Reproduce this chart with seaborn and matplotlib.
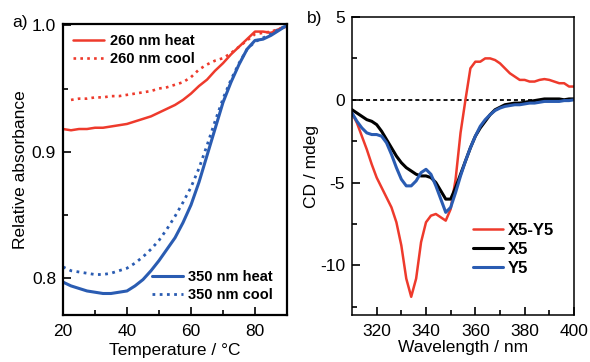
import numpy as np
import pandas as pd
import matplotlib
matplotlib.use("Agg")
import matplotlib.pyplot as plt
import seaborn as sns

# ---- panel a: melting curves (relative absorbance vs temperature) ----
temp = [20, 22.5, 25, 27.5, 30, 32.5, 35, 37.5, 40, 42.5, 45, 47.5, 50, 52.5, 55,
        57.5, 60, 62.5, 65, 67.5, 70, 72.5, 75, 77.5, 80, 82.5, 85, 87.5, 90]

abs260_heat = [0.918, 0.917, 0.918, 0.918, 0.919, 0.919, 0.920, 0.921, 0.922, 0.924,
               0.926, 0.928, 0.931, 0.934, 0.937, 0.941, 0.946, 0.952, 0.957, 0.964,
               0.970, 0.977, 0.983, 0.989, 0.995, 0.995, 0.994, 0.997, 0.999]
abs260_cool = [0.940, 0.941, 0.942, 0.942, 0.943, 0.943, 0.944, 0.944, 0.945, 0.946,
               0.947, 0.948, 0.950, 0.951, 0.953, 0.955, 0.959, 0.965, 0.969, 0.972,
               0.974, 0.978, 0.983, 0.988, 0.993, 0.994, 0.995, 0.997, 1.000]
abs350_heat = [0.797, 0.794, 0.792, 0.790, 0.789, 0.788, 0.788, 0.789, 0.790, 0.794,
               0.799, 0.806, 0.814, 0.823, 0.832, 0.844, 0.858, 0.876, 0.897, 0.918,
               0.939, 0.955, 0.969, 0.981, 0.988, 0.989, 0.992, 0.996, 1.000]
abs350_cool = [0.809, 0.806, 0.805, 0.804, 0.803, 0.803, 0.804, 0.806, 0.808, 0.812,
               0.817, 0.823, 0.830, 0.839, 0.849, 0.860, 0.872, 0.887, 0.905, 0.924,
               0.942, 0.957, 0.970, 0.981, 0.987, 0.990, 0.993, 0.997, 1.000]

# ---- panel b: CD spectra ----
wavelength = [310, 312, 314, 316, 318, 320, 322, 324, 326, 328, 330, 332, 334, 336, 338,
              340, 342, 344, 346, 348, 350, 352, 354, 356, 358, 360, 362, 364, 366, 368,
              370, 372, 374, 376, 378, 380, 382, 384, 386, 388, 390, 392, 394, 396, 398, 400]

cd_x5y5 = [-0.8, -1.4, -2.2, -3.0, -3.9, -4.7, -5.3, -5.9, -6.5, -7.4, -8.8, -10.8, -11.9,
           -10.8, -8.6, -7.4, -7.0, -6.9, -7.1, -7.3, -6.6, -4.8, -2.0, 0.0, 1.9, 2.3, 2.3,
           2.5, 2.5, 2.4, 2.2, 1.9, 1.6, 1.4, 1.2, 1.2, 1.1, 1.1, 1.2, 1.25, 1.2, 1.1, 1.0,
           1.0, 0.8, 0.8]
cd_x5 = [-0.6, -0.8, -1.0, -1.2, -1.3, -1.5, -1.9, -2.4, -2.9, -3.4, -3.8, -4.1, -4.3, -4.5,
         -4.6, -4.6, -4.7, -5.0, -5.5, -6.0, -6.0, -5.3, -4.5, -3.7, -2.9, -2.2, -1.7, -1.3,
         -0.9, -0.6, -0.45, -0.3, -0.25, -0.2, -0.2, -0.15, -0.1, -0.05, 0.0, 0.05, 0.05,
         0.05, 0.05, 0.0, 0.05, 0.05]
cd_y5 = [-0.8, -1.3, -1.7, -2.0, -2.1, -2.1, -2.2, -2.6, -3.3, -4.1, -4.8, -5.2, -5.2, -4.9,
         -4.4, -4.2, -4.5, -5.2, -6.0, -6.8, -6.5, -5.6, -4.6, -3.7, -2.9, -2.2, -1.6, -1.2,
         -0.9, -0.65, -0.5, -0.4, -0.35, -0.3, -0.3, -0.25, -0.2, -0.2, -0.15, -0.1, -0.1,
         -0.1, -0.1, -0.05, -0.05, 0.0]

RED = "#ee3a2c"
BLUE = "#2a5cb2"

sns.set_style("ticks")
plt.rcParams["font.family"] = ["Liberation Sans", "DejaVu Sans"]
plt.rcParams["axes.unicode_minus"] = False
plt.rcParams["text.color"] = "black"
plt.rcParams["axes.labelcolor"] = "black"
plt.rcParams["xtick.color"] = "black"
plt.rcParams["ytick.color"] = "black"

fig = plt.figure(figsize=(5.9, 3.62), dpi=100)
ax_a = fig.add_axes([63 / 590, 1 - 315 / 362, 224 / 590, 291 / 362])
ax_b = fig.add_axes([352 / 590, 1 - 315 / 362, 222 / 590, 298 / 362])

dot = (0, (1, 1.6))

# panel a
sns.lineplot(x=temp, y=abs260_heat, ax=ax_a, color=RED, lw=1.8, label="260 nm heat")
sns.lineplot(x=temp[1:], y=abs260_cool[1:], ax=ax_a, color=RED, lw=1.9, linestyle=dot,
             label="260 nm cool")
sns.lineplot(x=temp, y=abs350_heat, ax=ax_a, color=BLUE, lw=2.2, label="350 nm heat")
sns.lineplot(x=temp, y=abs350_cool, ax=ax_a, color=BLUE, lw=2.0, linestyle=dot,
             label="350 nm cool")

ax_a.set_xlim(20, 90)
ax_a.set_ylim(0.771, 1.001)
ax_a.set_xticks([20, 40, 60, 80])
ax_a.set_xticks([30, 50, 70], minor=True)
ax_a.set_yticks([0.8, 0.9, 1.0])
ax_a.set_yticks([0.85, 0.95], minor=True)
ax_a.set_yticklabels(["0.8", "0.9", "1.0"])
ax_a.set_xlabel("Temperature / °C", fontsize=12.5, labelpad=3)
ax_a.set_ylabel("Relative absorbance", fontsize=12.5, labelpad=3)

h, l = ax_a.get_legend_handles_labels()
ax_a.get_legend().remove()
leg1 = ax_a.legend(h[:2], l[:2], loc="upper left", bbox_to_anchor=(0.045, 0.966),
                   frameon=False, borderpad=0, borderaxespad=0, handlelength=2.1,
                   handletextpad=0.4, labelspacing=0.28, prop={"weight": "bold", "size": 10.5})
ax_a.add_artist(leg1)
ax_a.legend(h[2:], l[2:], loc="lower left", bbox_to_anchor=(0.397, 0.045),
            frameon=False, borderpad=0, borderaxespad=0, handlelength=2.1,
            handletextpad=0.4, labelspacing=0.28, prop={"weight": "bold", "size": 10.5})

# panel b
ax_b.axhline(0, color="black", lw=1.3, linestyle=(0, (2.2, 1.7)), zorder=1)
sns.lineplot(x=wavelength, y=cd_x5y5, ax=ax_b, color=RED, lw=1.8, label="X5-Y5")
sns.lineplot(x=wavelength, y=cd_x5, ax=ax_b, color="black", lw=2.2, label="X5")
sns.lineplot(x=wavelength, y=cd_y5, ax=ax_b, color=BLUE, lw=2.2, label="Y5")

ax_b.set_xlim(310, 400)
ax_b.set_ylim(-13, 5)
ax_b.set_xticks([320, 340, 360, 380, 400])
ax_b.set_xticks([330, 350, 370, 390], minor=True)
ax_b.set_yticks([-10, -5, 0, 5])
ax_b.set_yticks([-12.5, -7.5, -2.5, 2.5], minor=True)
ax_b.set_xlabel("Wavelength / nm", fontsize=12.5, labelpad=1)
ax_b.set_ylabel("CD / mdeg", fontsize=12.5, labelpad=1)
ax_b.legend(loc="upper left", bbox_to_anchor=(0.545, 0.31), frameon=False,
            borderpad=0, borderaxespad=0, handlelength=1.8, handletextpad=0.3,
            labelspacing=0.25, prop={"weight": "bold", "size": 12})

for ax, lw in ((ax_a, 1.6), (ax_b, 1.1)):
    for sp in ax.spines.values():
        sp.set_visible(True)
        sp.set_linewidth(lw)
        sp.set_color("black")
    ax.tick_params(which="major", direction="in", length=6, width=1.2, labelsize=12.5,
                   top=False, right=False)
    ax.tick_params(which="minor", direction="in", length=3.5, width=1.2,
                   top=False, right=False)
    ax.tick_params(axis="x", pad=6.5)
    ax.tick_params(axis="y", pad=5)

fig.text(12 / 590, 1 - 23 / 362, "a)", fontsize=12.5, va="center", ha="left")
fig.text(307 / 590, 1 - 18 / 362, "b)", fontsize=12.5, va="center", ha="left")

fig.savefig("out.png", dpi=100)
